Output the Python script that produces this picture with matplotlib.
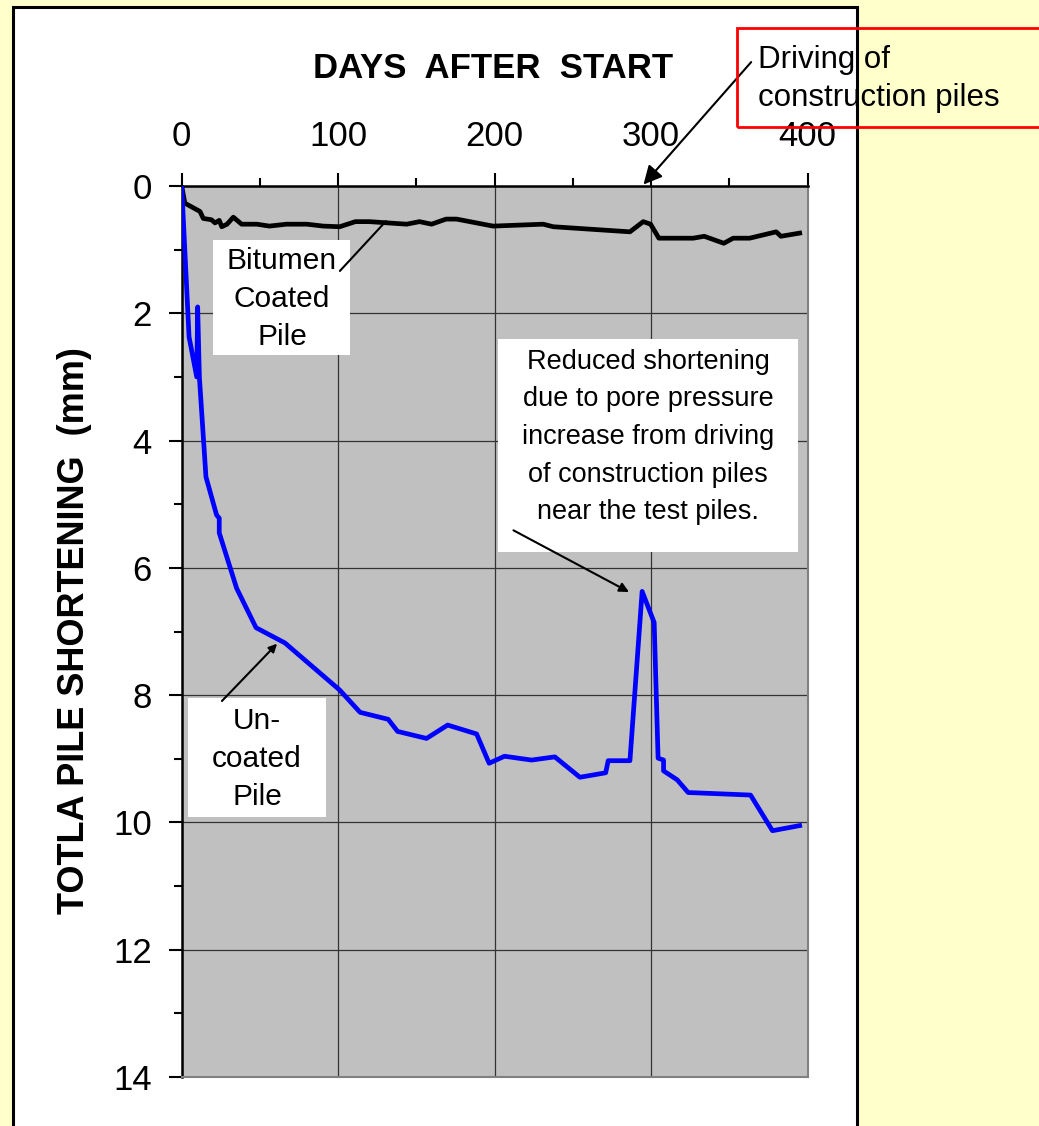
import matplotlib
matplotlib.use("Agg")
import matplotlib.pyplot as plt
from matplotlib.patches import Rectangle
from matplotlib.ticker import MultipleLocator

plt.rcParams['font.family'] = ['Liberation Sans', 'DejaVu Sans']

# ---- data ----
days_uncoated = [0, 4.7, 9.6, 10.2, 11.3, 15.5, 22.3, 24, 24, 35.1, 47.5, 66, 101, 114,
                 132, 138, 156.5, 170, 188.5, 196.5, 206.3, 223.6, 238.5, 254.5, 271,
                 272.6, 286.5, 294.3, 302, 304.5, 308, 308, 316.7, 323.7, 363.6, 377.6, 395]
mm_uncoated = [0, 2.37, 3.0, 1.9, 3.0, 4.57, 5.17, 5.22, 5.45, 6.32, 6.94, 7.18, 7.92, 8.27,
               8.38, 8.57, 8.68, 8.47, 8.61, 9.07, 8.96, 9.02, 8.97, 9.29, 9.22,
               9.03, 9.03, 6.37, 6.86, 8.99, 9.02, 9.19, 9.33, 9.53, 9.57, 10.13, 10.05]

days_bitumen = [0, 2, 11.7, 13.8, 19, 21.3, 24, 25.6, 29, 33, 38.3, 48, 56, 67, 80, 90.5,
                101, 111, 120, 143.8, 152, 159.7, 169, 175.7, 199, 231, 237.5, 286.5, 295,
                299.7, 305, 327, 334, 346.5, 352.5, 363, 380, 383, 395]
mm_bitumen = [0, 0.27, 0.40, 0.51, 0.53, 0.58, 0.54, 0.64, 0.60, 0.49, 0.60, 0.60, 0.63,
              0.60, 0.60, 0.63, 0.64, 0.56, 0.56, 0.60, 0.56, 0.60, 0.52, 0.52, 0.63, 0.60,
              0.64, 0.72, 0.56, 0.60, 0.82, 0.82, 0.79, 0.90, 0.82, 0.82, 0.72, 0.79, 0.74]

x_ticks = [0, 100, 200, 300, 400]
y_ticks = [0, 2, 4, 6, 8, 10, 12, 14]

W, H = 1039, 1126
fig = plt.figure(figsize=(W / 100, H / 100), dpi=100, facecolor='#FFFFCC')


def fp(x, y):
    return (x / W, 1 - y / H)


# white panel (behind the axes)
x0, y0 = fp(13, 1140)
fig.patches.append(Rectangle((x0, y0), (857 - 13) / W, (1140 - 7) / H,
                             transform=fig.transFigure, facecolor='white',
                             edgecolor='black', linewidth=2.2, zorder=-1))

ax = fig.add_axes([181.7 / W, 1 - 1077 / H, (807.5 - 181.7) / W, (1077 - 186) / H])
ax.set_facecolor('#C0C0C0')
ax.set_xlim(0, 400)
ax.set_ylim(14, 0)
ax.xaxis.tick_top()
ax.xaxis.set_label_position('top')
ax.set_xticks(x_ticks)
ax.set_yticks(y_ticks)
ax.xaxis.set_minor_locator(MultipleLocator(50))
ax.yaxis.set_minor_locator(MultipleLocator(1))
ax.tick_params(axis='x', which='major', labelsize=25, length=9.5, width=1.5, pad=14,
               top=True, bottom=False)
ax.tick_params(axis='x', which='minor', length=5.5, width=1.5, top=True, bottom=False)
ax.tick_params(axis='y', which='major', labelsize=25, length=9.5, width=1.5, pad=12)
ax.tick_params(axis='y', which='minor', length=5.5, width=1.5)
ax.grid(True, which='major', color='#333333', linewidth=0.9)
ax.set_axisbelow(True)
for s in ['left', 'top']:
    ax.spines[s].set_color('black')
    ax.spines[s].set_linewidth(1.8)
for s in ['right', 'bottom']:
    ax.spines[s].set_color('#808080')
    ax.spines[s].set_linewidth(1.5)

ax.plot(days_bitumen, mm_bitumen, color='black', linewidth=3.4, zorder=3)
ax.plot(days_uncoated, mm_uncoated, color='#0000FF', linewidth=3.4, zorder=4)

fig.text(*fp(493, 68), 'DAYS  AFTER  START', fontsize=25, fontweight='bold',
         ha='center', va='center')
fig.text(*fp(75, 631), 'TOTLA PILE SHORTENING  (mm)', fontsize=26, fontweight='bold',
         ha='center', va='center', rotation=90)


def box(xa, ya, xb, yb):
    bx, by = fp(xa, yb)
    ax.add_patch(Rectangle((bx, by), (xb - xa) / W, (yb - ya) / H,
                           transform=fig.transFigure, facecolor='white',
                           edgecolor='none', zorder=5, clip_on=False))


def label(x, y, s, **kw):
    ax.text(*fp(x, y), s, transform=fig.transFigure, zorder=7, clip_on=False, **kw)


# Bitumen coated pile annotation
box(213, 240, 350, 355)
label(282, 299, 'Bitumen\nCoated\nPile', fontsize=21.5, ha='center', va='center',
      linespacing=1.44)
ax.annotate('', xy=(131.8, 0.52), xytext=fp(338, 273), textcoords='figure fraction',
            arrowprops=dict(arrowstyle='-', color='black', lw=1.5), zorder=6)

# Uncoated pile annotation
box(188, 698, 326, 817)
label(257, 759, 'Un-\ncoated\nPile', fontsize=21.5, ha='center', va='center',
      linespacing=1.44)
ax.annotate('', xy=(62.2, 7.16), xytext=fp(220, 703), textcoords='figure fraction',
            arrowprops=dict(arrowstyle='-|>', color='black', lw=1.5, mutation_scale=12),
            zorder=6)

# Reduced shortening annotation
box(498, 339, 798, 552)
label(648, 437, 'Reduced shortening\ndue to pore pressure\nincrease from driving\n'
      'of construction piles\nnear the test piles.', fontsize=19.5, ha='center',
      va='center', linespacing=1.58)
ax.annotate('', xy=(287.5, 6.4), xytext=fp(511, 529), textcoords='figure fraction',
            arrowprops=dict(arrowstyle='-|>', color='black', lw=1.5, mutation_scale=14),
            zorder=6)

# Driving of construction piles annotation
rx, ry = fp(737, 127)
fig.patches.append(Rectangle((rx, ry), (1060 - 737) / W, (127 - 28) / H,
                             transform=fig.transFigure, facecolor='none',
                             edgecolor='#FF0000', linewidth=2, zorder=7))
fig.text(*fp(758, 79), 'Driving of\nconstruction piles', fontsize=22.5, ha='left',
         va='center', linespacing=1.36, zorder=8)
ax.annotate('', xy=(294, 0.01), xytext=fp(753, 60), textcoords='figure fraction',
            arrowprops=dict(arrowstyle='-|>', color='black', lw=1.5, mutation_scale=28),
            annotation_clip=False, zorder=8)

fig.savefig('out.png', dpi=100, facecolor=fig.get_facecolor())
